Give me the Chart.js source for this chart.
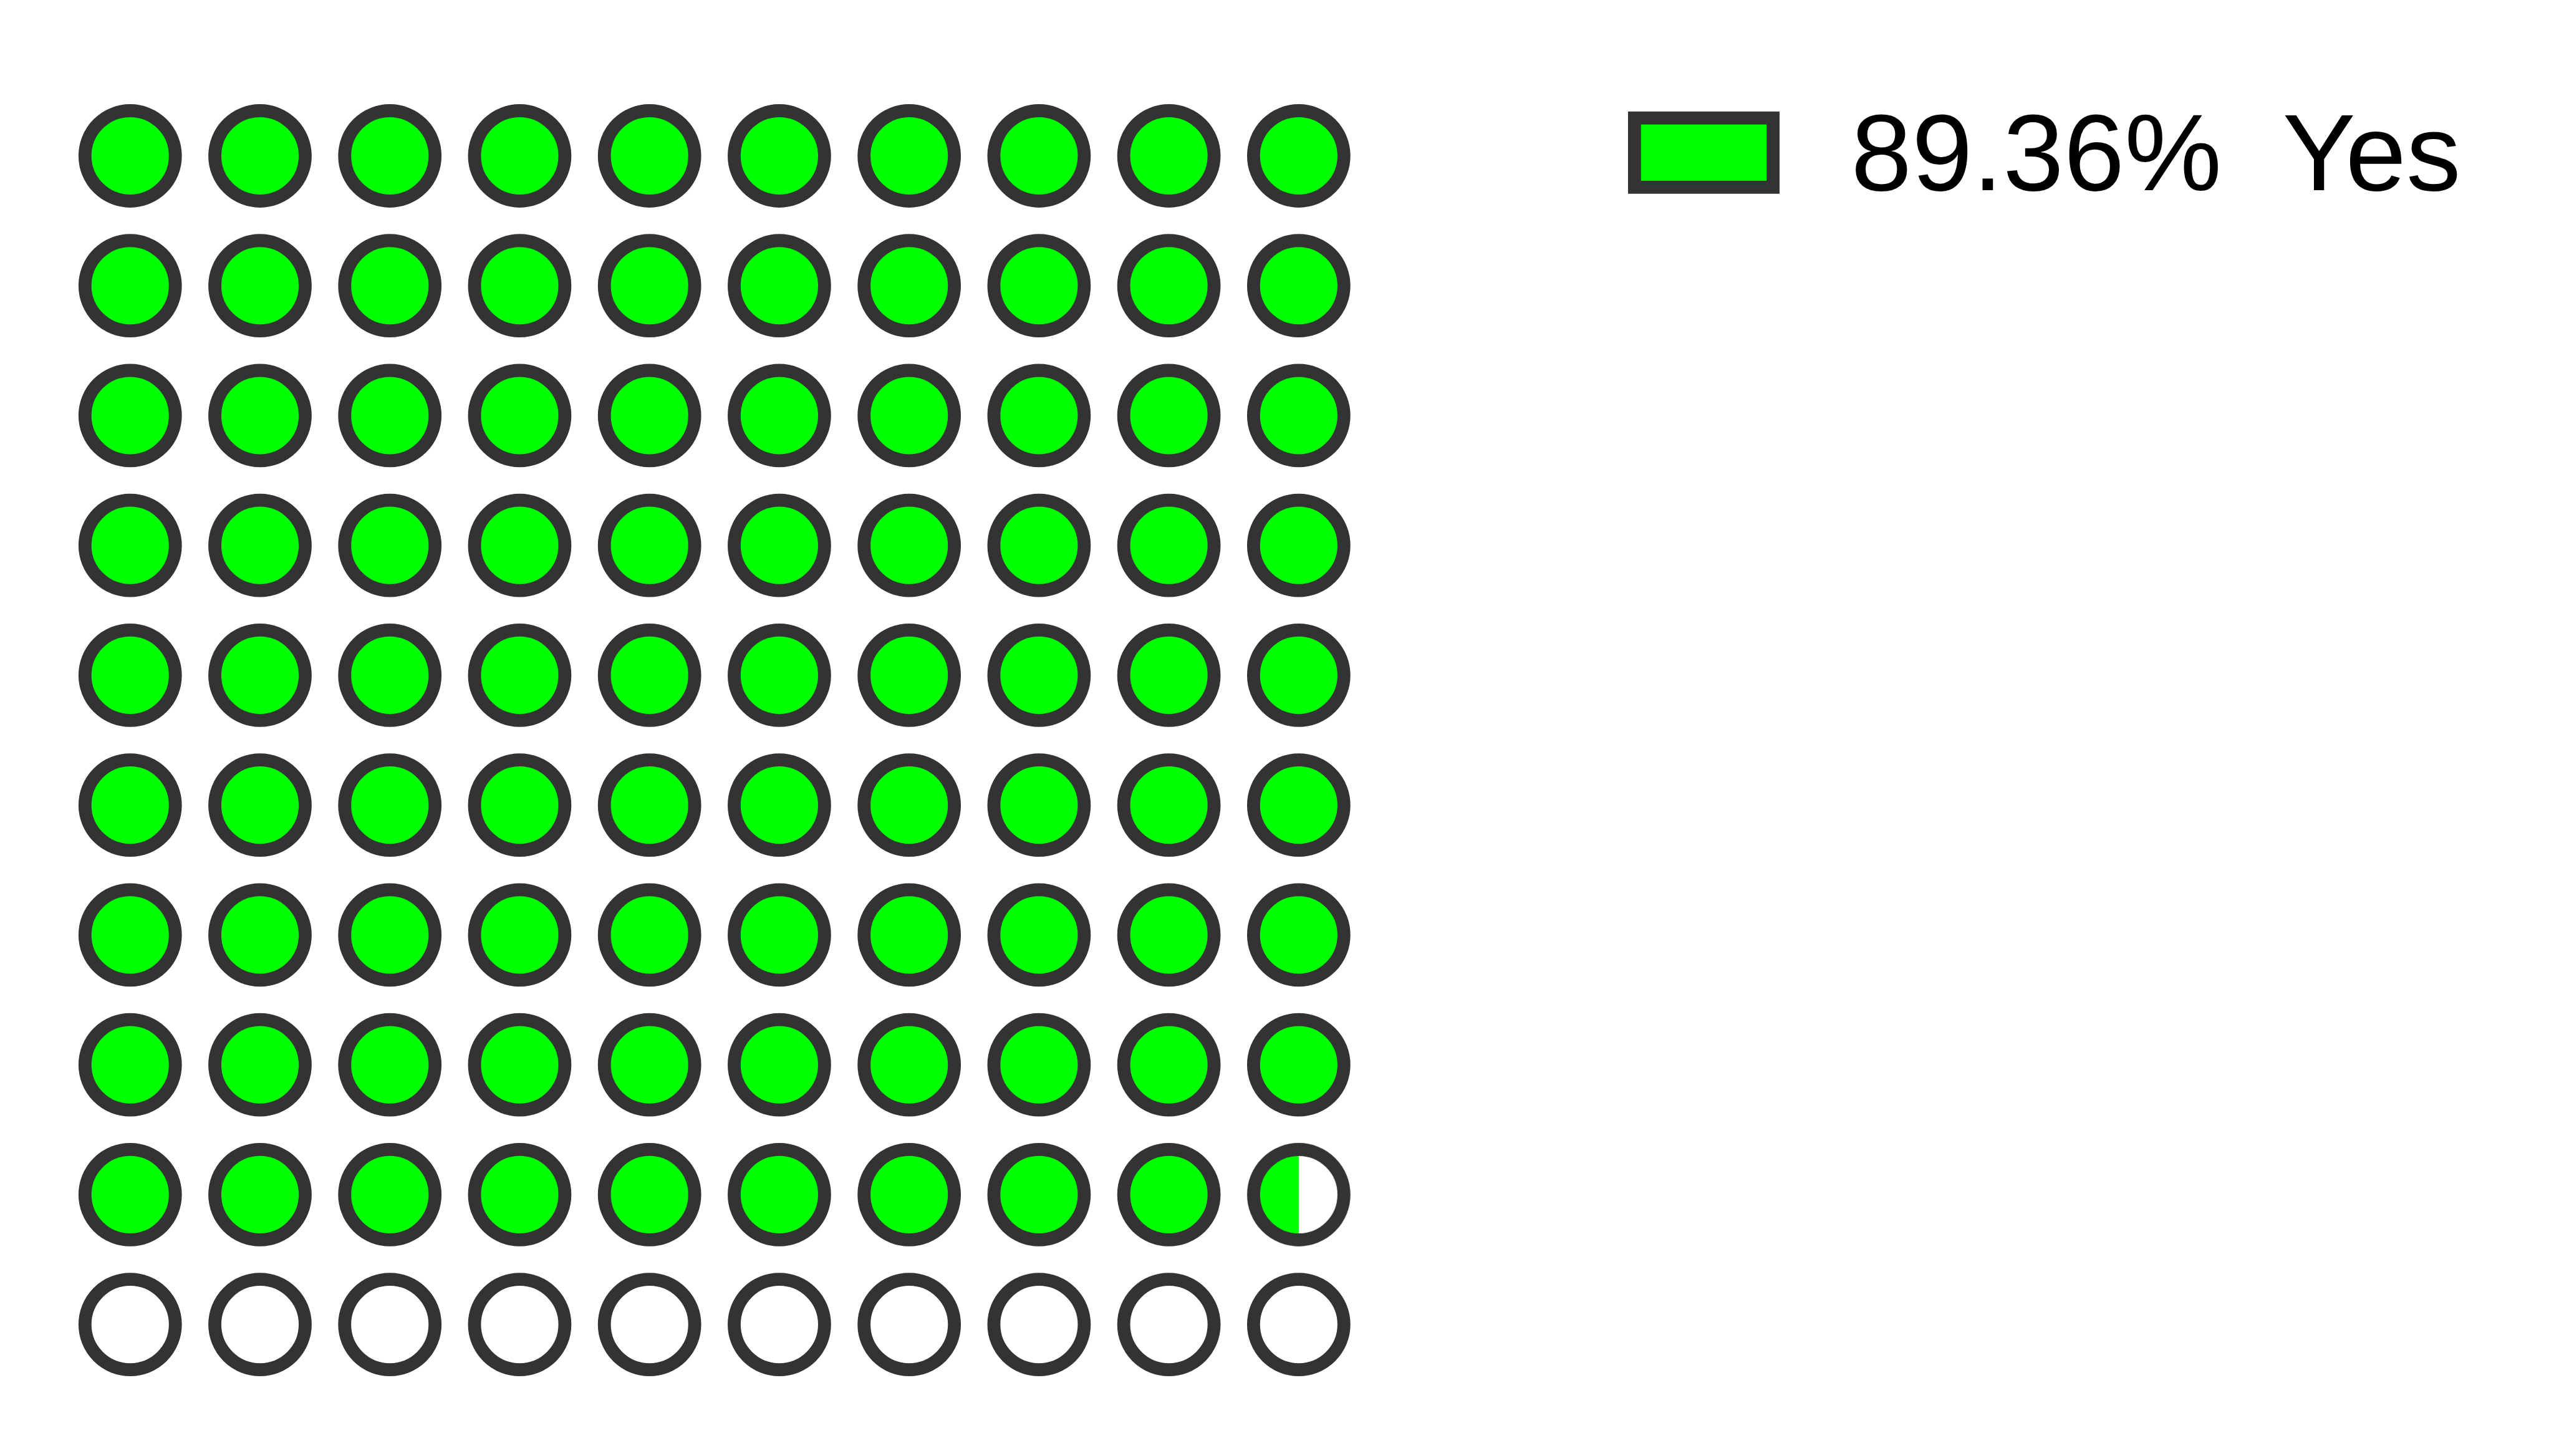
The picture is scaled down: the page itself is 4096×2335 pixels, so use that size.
<!DOCTYPE html>
<html>
<head>
<meta charset="utf-8">
<script src="https://cdn.jsdelivr.net/npm/chart.js@4/dist/chart.umd.min.js"></script>
<style>
html,body{margin:0;padding:0;background:#fff;}
#wrap{width:4096px;height:2335px;position:relative;}
</style>
</head>
<body>
<div id="wrap"><canvas id="c"></canvas></div>
<script>
// ---- data ----
const categories = ['Yes'];
const percentages = [89.36];
const gridCols = 10;
const gridRows = 10;

// ---- styles ----
const S = 0.868;
const fillColor = '#00ff00';
const strokeColor = '#333333';
const emptyColor = '#ffffff';
const pointRadius = 83.5 * S;
const borderW = 24 * S;

// build cells from data
const total = gridCols * gridRows;
const pct = percentages[0];
const fullCount = Math.floor(pct);
const partialFrac = Math.round((pct - fullCount) * 2) / 2;
const fullPts = [], emptyPts = [], partPts = [];
for (let i = 0; i < total; i++) {
  const p = {x: i % gridCols, y: Math.floor(i / gridCols)};
  if (i < fullCount) fullPts.push(p);
  else if (i === fullCount && partialFrac > 0) partPts.push(p);
  else emptyPts.push(p);
}

// partial point image
function makePartial(frac) {
  const R = pointRadius + borderW / 2;
  const size = Math.ceil(2 * R) + 4;
  const cv = document.createElement('canvas');
  cv.width = size; cv.height = size;
  const c = cv.getContext('2d');
  const cx = size / 2, cy = size / 2;
  c.beginPath(); c.arc(cx, cy, pointRadius, 0, Math.PI * 2);
  c.fillStyle = emptyColor; c.fill();
  c.save();
  c.beginPath(); c.arc(cx, cy, pointRadius, 0, Math.PI * 2); c.clip();
  c.fillStyle = fillColor;
  c.fillRect(cx - R, 0, 2 * R * frac, size);
  c.restore();
  c.beginPath(); c.arc(cx, cy, pointRadius, 0, Math.PI * 2);
  c.lineWidth = borderW; c.strokeStyle = strokeColor; c.stroke();
  return cv;
}

const legendPlugin = {
  id: 'customLegend',
  afterDraw(chart) {
    const ctx = chart.ctx;
    ctx.save();
    const x0 = 3020 * S, y0 = 218 * S, w = 256 * S, h = 128 * S;
    ctx.fillStyle = fillColor;
    ctx.fillRect(x0, y0, w, h);
    ctx.lineWidth = borderW;
    ctx.strokeStyle = strokeColor;
    ctx.strokeRect(x0, y0, w, h);
    ctx.fillStyle = '#000000';
    ctx.font = (202 * S) + 'px "Liberation Sans", Arial, sans-serif';
    ctx.textBaseline = 'alphabetic';
    ctx.textAlign = 'left';
    ctx.fillText(pct.toFixed(2) + '%\u00a0\u00a0' + categories[0], 3420 * S, 351 * S);
    ctx.restore();
  }
};

const unitPx = 239.9 * S;
const cellX0 = 240.5 * S, cellY0 = 288 * S;
const padL = cellX0 - 0.5 * unitPx;
const padR = 4096 - (padL + gridCols * unitPx);
const padT = cellY0 - 0.5 * unitPx;
const padB = 2335 - (padT + gridRows * unitPx);

const common = {pointStyle: 'circle', pointRadius: pointRadius, pointHoverRadius: pointRadius,
  pointBorderWidth: borderW, pointHoverBorderWidth: borderW, pointBorderColor: strokeColor, showLine: false};

new Chart(document.getElementById('c'), {
  type: 'scatter',
  data: {
    datasets: [
      Object.assign({label: 'full', data: fullPts, pointBackgroundColor: fillColor}, common),
      Object.assign({label: 'empty', data: emptyPts, pointBackgroundColor: emptyColor}, common),
      Object.assign({label: 'partial', data: partPts, pointBackgroundColor: emptyColor}, common,
        {pointStyle: makePartial(partialFrac)})
    ]
  },
  options: {
    responsive: true,
    maintainAspectRatio: false,
    animation: false,
    devicePixelRatio: 1,
    layout: {padding: {left: padL, right: padR, top: padT, bottom: padB}},
    scales: {
      x: {type: 'linear', min: -0.5, max: gridCols - 0.5, display: false},
      y: {type: 'linear', min: -0.5, max: gridRows - 0.5, reverse: true, display: false}
    },
    plugins: {legend: {display: false}, tooltip: {enabled: false}},
    events: []
  },
  plugins: [legendPlugin]
});
</script>
</body>
</html>
